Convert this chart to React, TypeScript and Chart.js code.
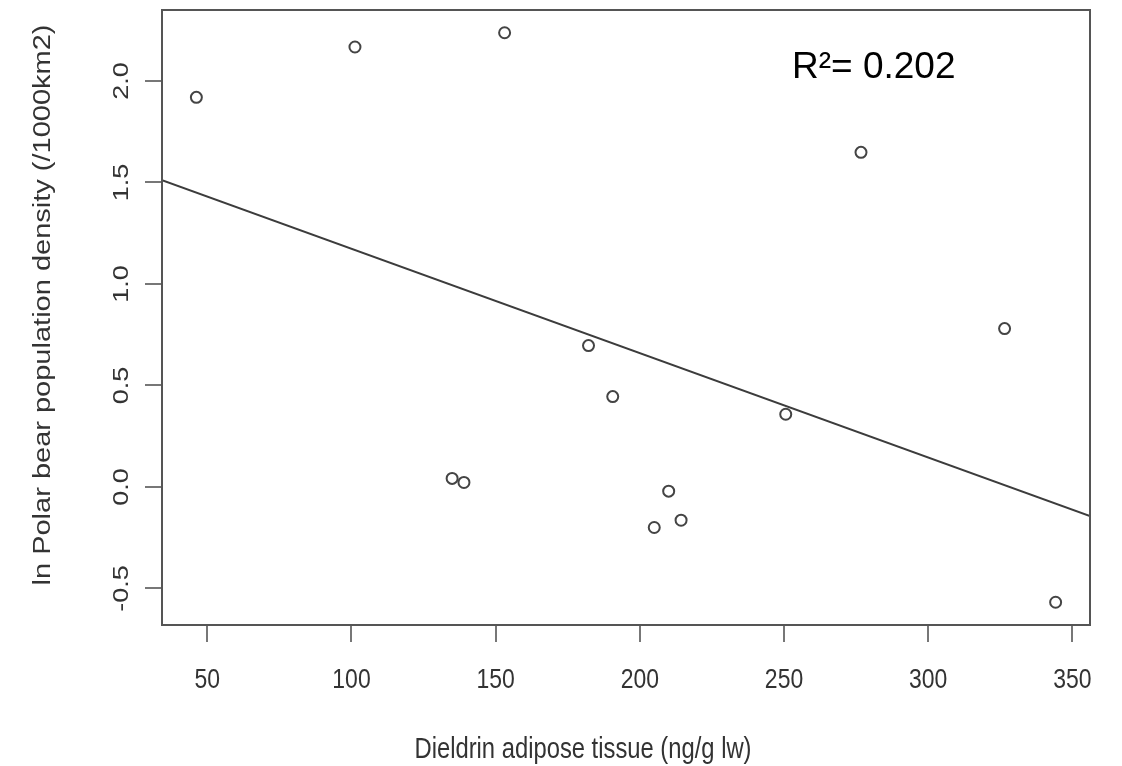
import React, { useEffect, useRef } from "react";
import { Chart, registerables } from "chart.js";

Chart.register(...registerables);

// Data
const xValues = [46.2, 101.2, 153.1, 276.7, 326.5, 182.2, 190.6, 250.6, 134.9, 139.0, 210.0, 214.3, 205.0, 344.2];
const yValues = [1.919, 2.167, 2.237, 1.648, 0.780, 0.696, 0.445, 0.358, 0.042, 0.022, -0.021, -0.164, -0.200, -0.568];
const xTicks = [50, 100, 150, 200, 250, 300, 350];
const xTickLabels = ["50", "100", "150", "200", "250", "300", "350"];
const yTicks = [-0.5, 0, 0.5, 1.0, 1.5, 2.0];
const yTickLabels = ["-0.5", "0.0", "0.5", "1.0", "1.5", "2.0"];
const xTitle = "Dieldrin adipose tissue (ng/g lw)";
const yTitle = "ln Polar bear population density (/1000km2)";
const r2Text = "R\u00B2= 0.202";

// R-style axis ranges: data range extended by 4%
const xMinD = Math.min(...xValues);
const xMaxD = Math.max(...xValues);
const yMinD = Math.min(...yValues);
const yMaxD = Math.max(...yValues);
const xMin = xMinD - 0.04 * (xMaxD - xMinD);
const xMax = xMaxD + 0.04 * (xMaxD - xMinD);
const yMin = yMinD - 0.04 * (yMaxD - yMinD);
const yMax = yMaxD + 0.04 * (yMaxD - yMinD);

// Least-squares fit line through the data
const n = xValues.length;
const mx = xValues.reduce((a, b) => a + b, 0) / n;
const my = yValues.reduce((a, b) => a + b, 0) / n;
let sxy = 0;
let sxx = 0;
for (let i = 0; i < n; i++) {
  sxy += (xValues[i] - mx) * (yValues[i] - my);
  sxx += (xValues[i] - mx) * (xValues[i] - mx);
}
const slope = sxy / sxx;
const intercept = my - slope * mx;

const SQUEEZE = 0.82;
const FONT = '"Liberation Sans", Arial, sans-serif';

const textPlugin = {
  id: "rtext",
  afterDraw(chart: any) {
    const { ctx, chartArea, scales } = chart;
    ctx.save();
    // box
    ctx.strokeStyle = "#555555";
    ctx.lineWidth = 2;
    ctx.strokeRect(chartArea.left, chartArea.top, chartArea.right - chartArea.left, chartArea.bottom - chartArea.top);

    ctx.fillStyle = "#333333";
    // x tick labels
    ctx.font = `28px ${FONT}`;
    ctx.textAlign = "center";
    ctx.textBaseline = "alphabetic";
    xTicks.forEach((v, i) => {
      const px = scales.x.getPixelForValue(v);
      ctx.save();
      ctx.translate(px, 688);
      ctx.scale(SQUEEZE, 1);
      ctx.fillText(xTickLabels[i], 0, 0);
      ctx.restore();
    });
    // y tick labels (rotated)
    ctx.font = `27px ${FONT}`;
    yTicks.forEach((v, i) => {
      const py = scales.y.getPixelForValue(v);
      ctx.save();
      ctx.translate(128, py);
      ctx.scale(SQUEEZE, 1);
      ctx.rotate(-Math.PI / 2);
      ctx.fillText(yTickLabels[i], 0, 0);
      ctx.restore();
    });
    // x title
    ctx.font = `29px ${FONT}`;
    ctx.save();
    ctx.translate(583, 758);
    ctx.scale(SQUEEZE, 1);
    ctx.fillText(xTitle, 0, 0);
    ctx.restore();
    // y title
    ctx.font = `29px ${FONT}`;
    ctx.save();
    ctx.translate(50, 305);
    ctx.scale(SQUEEZE, 1);
    ctx.rotate(-Math.PI / 2);
    ctx.fillText(yTitle, 0, 0);
    ctx.restore();
    // R^2 annotation
    ctx.fillStyle = "#000000";
    ctx.font = `37px ${FONT}`;
    ctx.textAlign = "left";
    ctx.fillText(r2Text, 792, 78);
    ctx.restore();
  },
};

export default function App() {
  const ref = useRef<HTMLCanvasElement | null>(null);
  useEffect(() => {
    if (!ref.current) return;
    const chart = new Chart(ref.current, {
      type: "scatter",
      data: {
        datasets: [
          {
            label: "points",
            data: xValues.map((x, i) => ({ x, y: yValues[i] })),
            pointStyle: "circle",
            pointRadius: 5.5,
            pointBorderWidth: 2,
            borderColor: "#444444",
            backgroundColor: "rgba(0,0,0,0)",
            pointBackgroundColor: "rgba(0,0,0,0)",
            pointBorderColor: "#444444",
          },
          {
            label: "fit",
            data: [
              { x: xMin, y: intercept + slope * xMin },
              { x: xMax, y: intercept + slope * xMax },
            ],
            showLine: true,
            pointRadius: 0,
            borderColor: "#3c3c3c",
            borderWidth: 2,
          },
        ],
      },
      options: {
        responsive: false,
        animation: false,
        devicePixelRatio: 1,
        layout: { padding: { top: 10, right: 32, left: 0, bottom: 0 } },
        plugins: { legend: { display: false }, tooltip: { enabled: false } },
        events: [],
        scales: {
          x: {
            type: "linear",
            min: xMin,
            max: xMax,
            ticks: { display: false },
            border: { display: false },
            grid: { drawOnChartArea: false, drawTicks: true, tickLength: 17, color: "#777777", lineWidth: 2 },
            afterBuildTicks: (s: any) => {
              s.ticks = xTicks.map((v) => ({ value: v }));
            },
            afterFit: (s: any) => {
              s.height = 141;
            },
          },
          y: {
            type: "linear",
            min: yMin,
            max: yMax,
            ticks: { display: false },
            border: { display: false },
            grid: { drawOnChartArea: false, drawTicks: true, tickLength: 17, color: "#777777", lineWidth: 2 },
            afterBuildTicks: (s: any) => {
              s.ticks = yTicks.map((v) => ({ value: v }));
            },
            afterFit: (s: any) => {
              s.width = 162;
            },
          },
        },
      },
      plugins: [textPlugin],
    });
    return () => chart.destroy();
  }, []);
  return (
    <div style={{ position: "fixed", left: 0, top: 0, width: 1122, height: 766, background: "#fff" }}>
      <canvas ref={ref} width={1122} height={766} style={{ display: "block" }} />
    </div>
  );
}
